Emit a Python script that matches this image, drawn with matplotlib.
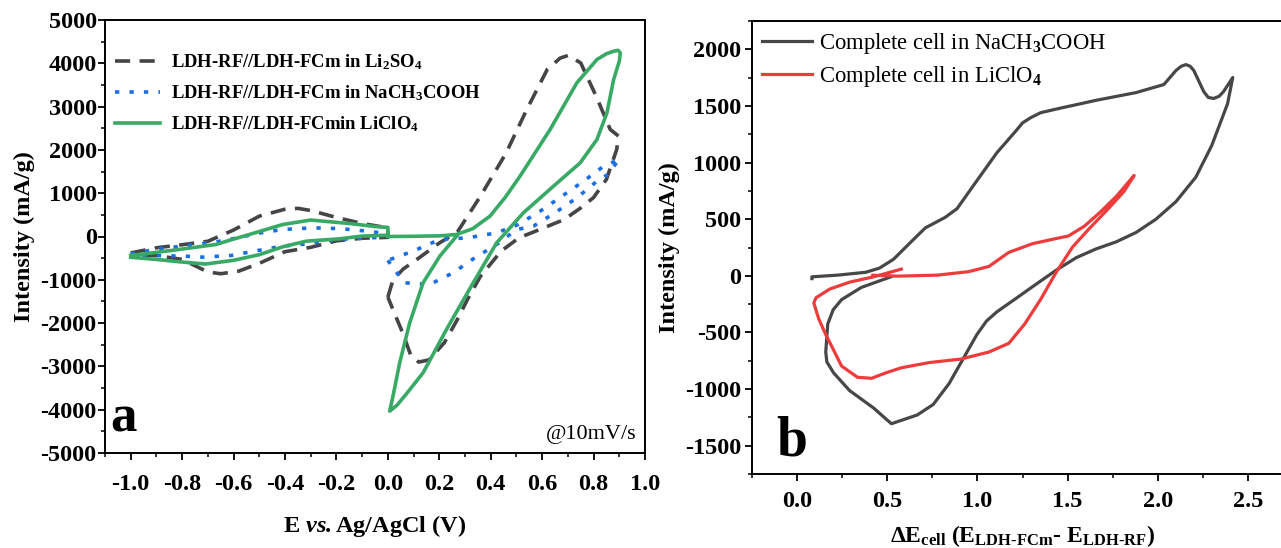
import numpy as np
import matplotlib
matplotlib.use("Agg")
import matplotlib.pyplot as plt

plt.rcParams['font.family'] = ['Liberation Serif', 'DejaVu Serif']
plt.rcParams['font.weight'] = 'bold'
plt.rcParams['axes.unicode_minus'] = False
plt.rcParams['mathtext.fontset'] = 'custom'
plt.rcParams['mathtext.rm'] = 'Liberation Serif'
plt.rcParams['mathtext.it'] = 'Liberation Serif:italic'
plt.rcParams['mathtext.bf'] = 'Liberation Serif:bold'
plt.rcParams['mathtext.bfit'] = 'Liberation Serif:italic:bold'

nan = np.nan

# ---- panel a: three-electrode CVs (negative loop, gap, positive loop) ----
li2so4_E = [-1.0, -0.9, -0.8, -0.7, -0.6, -0.5, -0.4, -0.35, -0.3, -0.2, -0.1, 0.0,
            0.0, -0.1, -0.2, -0.3, -0.4, -0.5, -0.58, -0.65, -0.7, -0.8, -0.9, -1.0,
            nan,
            0.0, 0.02, 0.06, 0.12, 0.2, 0.27, 0.36, 0.46, 0.54, 0.62, 0.67, 0.70, 0.75, 0.81,
            0.865, 0.897, 0.89, 0.85, 0.80, 0.75, 0.685, 0.59, 0.51, 0.44, 0.36, 0.31,
            0.27, 0.22, 0.16, 0.12, 0.09, 0.06, 0.02, 0.0]
li2so4_I = [-380, -260, -190, -110, 150, 470, 630, 650, 600, 440, 300, 200,
            -20, -40, -100, -250, -350, -620, -800, -860, -820, -530, -440, -420,
            nan,
            -1400, -1000, -750, -500, -150, 100, 930, 1930, 2930, 3860, 4120, 4180, 4010, 3240,
            2470, 2320, 2010, 1320, 900, 660, 390, 160, -30, -340, -920, -1450,
            -1920, -2450, -2850, -2900, -2760, -2260, -1690, -1400]

nach3cooh_E = [-1.0, -0.89, -0.78, -0.675, -0.57, -0.51, -0.41, -0.29, -0.18, -0.08, -0.03,
               -0.03, -0.09, -0.2, -0.3, -0.41, -0.52, -0.61, -0.72, -0.79, -0.91, -1.0,
               nan,
               0.0, 0.02, 0.065, 0.163, 0.254, 0.338, 0.423, 0.501, 0.566, 0.65, 0.735,
               0.813, 0.86, 0.9, 0.884, 0.839, 0.761, 0.677, 0.592, 0.507, 0.423,
               0.312, 0.202, 0.098, 0.0]
nach3cooh_I = [-400, -285, -208, -131, -15, 69, 162, 200, 180, 123, 85,
               -20, -38, -69, -162, -223, -339, -439, -477, -454, -439, -420,
               nan,
               -550, -723, -1069, -1108, -838, -492, -185, 162, 238, 547, 893,
               1277, 1450, 1800, 1739, 1623, 1277, 931, 584, 277, 85,
               -30, -69, -339, -550]

liclo4_E = [-1.0, -0.864, -0.8, -0.669, -0.6, -0.539, -0.409, -0.3, -0.149, -0.05, 0.0,
            0.0, -0.1, -0.188, -0.318, -0.409, -0.5, -0.6, -0.709, -0.8, -0.9, -1.0,
            nan,
            0.0, 0.1, 0.2, 0.267, 0.33, 0.397, 0.456, 0.514, 0.631, 0.735, 0.813, 0.85,
            0.878, 0.895, 0.904, 0.9, 0.878, 0.852, 0.813, 0.748, 0.644, 0.527, 0.423,
            0.332, 0.228, 0.137, 0.07, 0.035, 0.007, 0.02, 0.046, 0.085, 0.137, 0.202, 0.267]
liclo4_I = [-440, -339, -290, -185, -60, 46, 277, 380, 300, 230, 210,
            30, 10, -54, -108, -238, -420, -550, -636, -590, -530, -480,
            nan,
            0, 5, 15, 46, 180, 469, 900, 1393, 2470, 3549, 4087, 4220,
            4279, 4300, 4241, 4050, 3625, 2856, 2240, 1701, 1162, 547, -146,
            -1069, -2147, -3147, -3650, -3900, -4033, -3687, -2917, -1993, -1069, -454, 7]

panel_a_labels = [r'LDH-RF//LDH-FCm in Li$_\mathbf{2}$SO$_\mathbf{4}$',
                  r'LDH-RF//LDH-FCm in NaCH$_\mathbf{3}$COOH',
                  r'LDH-RF//LDH-FCmin LiClO$_\mathbf{4}$']
panel_a_xticks = [-1.0, -0.8, -0.6, -0.4, -0.2, 0.0, 0.2, 0.4, 0.6, 0.8, 1.0]

# ---- panel b: complete cell ----
cell_na_E = [0.082, 0.082, 0.225, 0.38, 0.457, 0.534, 0.622, 0.711, 0.821, 0.887, 0.997,
             1.108, 1.218, 1.25, 1.295, 1.35, 1.439, 1.659, 1.88, 2.034, 2.101, 2.13, 2.156,
             2.18, 2.2, 2.255, 2.28, 2.31, 2.34, 2.365, 2.416, 2.387, 2.299, 2.211, 2.101,
             1.99, 1.88, 1.77, 1.659, 1.549, 1.439, 1.328, 1.218, 1.108, 1.05, 0.997, 0.931,
             0.843, 0.755, 0.666, 0.523, 0.424, 0.291, 0.203, 0.165, 0.159, 0.17, 0.2, 0.247,
             0.357, 0.52]
cell_na_I = [-25, -9, 6, 31, 68, 145, 284, 423, 516, 593, 840,
             1087, 1288, 1350, 1396, 1440, 1473, 1550, 1618, 1689, 1813, 1850, 1865,
             1850, 1813, 1627, 1575, 1566, 1585, 1627, 1751, 1519, 1149, 871, 655,
             500, 383, 300, 238, 161, 52, -71, -195, -318, -400, -519, -704,
             -951, -1136, -1229, -1306, -1167, -1013, -858, -760, -673, -426, -300, -210,
             -102, -9]

cell_li_E = [0.42, 0.556, 0.777, 0.953, 1.064, 1.174, 1.306, 1.439, 1.505, 1.593, 1.681,
             1.77, 1.869, 1.814, 1.726, 1.615, 1.527, 1.439, 1.35, 1.262, 1.174, 1.064,
             0.909, 0.733, 0.578, 0.49, 0.413, 0.335, 0.247, 0.159, 0.12, 0.093, 0.104, 0.181,
             0.291, 0.424, 0.578]
cell_li_I = [5, -3, 6, 37, 83, 207, 284, 330, 352, 438, 562,
             701, 886, 747, 593, 408, 253, 37, -210, -426, -596, -673,
             -735, -766, -812, -858, -905, -896, -797, -519, -380, -241, -195, -117,
             -56, -9, 59]

panel_b_labels = [r'Complete cell in NaCH$_3$COOH', r'Complete cell in LiClO$_4$']

W, H = 1281, 548
fig = plt.figure(figsize=(W / 100, H / 100), dpi=100)

def px_axes(l, t, r, b):
    return fig.add_axes([l / W, 1 - b / H, (r - l) / W, (b - t) / H])

def style(ax, xpad, ypad):
    ax.tick_params(axis='both', which='major', direction='out', length=5, width=1.3,
                   labelsize=17.5, top=False, right=False)
    ax.tick_params(axis='x', which='major', pad=xpad)
    ax.tick_params(axis='y', which='major', pad=ypad)
    ax.tick_params(axis='both', which='minor', direction='out', length=3, width=1.1,
                   top=False, right=False)
    for s in ax.spines.values():
        s.set_linewidth(1.4)

# panel a
axa = px_axes(105, 20, 645, 453)
axa.plot(li2so4_E, li2so4_I, color='#454545', lw=2.6, ls=(0, (4.2, 2.6)),
         solid_joinstyle='round', label=panel_a_labels[0])
axa.plot(nach3cooh_E, nach3cooh_I, color='#1f6ee0', lw=2.6, ls=(0, (1.2, 2.8)),
         label=panel_a_labels[1])
axa.plot(liclo4_E, liclo4_I, color='#38aa66', lw=2.6, solid_joinstyle='round',
         label=panel_a_labels[2])
axa.set_xlim(-1.1, 1.0)
axa.set_ylim(-5000, 5000)
axa.set_xticks(panel_a_xticks)
axa.set_xticklabels([f'{v:.1f}' for v in panel_a_xticks])
axa.xaxis.set_minor_locator(plt.MultipleLocator(0.1))
axa.set_yticks(np.arange(-5000, 5001, 1000))
axa.set_yticks(np.arange(-5000, 5001, 500), minor=True)
style(axa, xpad=10, ypad=1)
axa.set_xlabel(r'E $\mathbfit{vs.}$Ag/AgCl (V)', fontsize=17.5, fontweight='bold', labelpad=13)
axa.set_ylabel('Intensity (mA/g)', fontsize=17.5, fontweight='bold', labelpad=4)
axa.legend(loc='upper left', bbox_to_anchor=(-0.005, 0.955), frameon=False, fontsize=13.4,
           handlelength=2.4, handletextpad=0.6, labelspacing=0.6, borderaxespad=0.3)
axa.text(0.01, 0.025, 'a', transform=axa.transAxes, fontsize=38, fontweight='bold',
         ha='left', va='bottom')
axa.text(0.985, 0.02, '@10mV/s', transform=axa.transAxes, fontsize=16,
         fontweight='normal', ha='right', va='bottom')

# panel b
axb = px_axes(752, 21, 1293, 474)
axb.plot(cell_na_E, cell_na_I, color='#474747', lw=2.3, solid_joinstyle='round',
         label=panel_b_labels[0])
axb.plot(cell_li_E, cell_li_I, color='#ee3b3b', lw=2.3, solid_joinstyle='round',
         label=panel_b_labels[1])
axb.set_xlim(-0.25, 2.75)
axb.set_ylim(-1750, 2250)
axb.set_xticks(np.arange(0.0, 2.51, 0.5))
axb.set_xticks(np.arange(-0.25, 2.76, 0.25), minor=True)
axb.set_yticks(np.arange(-1500, 2001, 500))
axb.set_yticks(np.arange(-1750, 2251, 250), minor=True)
style(axb, xpad=7, ypad=3)
axb.set_xlabel(r'$\mathbf{\Delta E_{cell}}$ (E$_{\mathbf{LDH}\text{-}\mathbf{FCm}}$- E$_{\mathbf{LDH}\text{-}\mathbf{RF}}$)',
               fontsize=17, fontweight='bold', labelpad=8)
axb.set_ylabel('Intensity (mA/g)', fontsize=17.5, fontweight='bold', labelpad=3)
axb.legend(loc='upper left', frameon=False, prop={'size': 16.3, 'weight': 'normal'},
           handlelength=2.2, handletextpad=0.3, labelspacing=0.35, borderaxespad=0.05)
axb.text(0.045, 0.015, 'b', transform=axb.transAxes, fontsize=40, fontweight='bold',
         ha='left', va='bottom')

fig.savefig('out.png', dpi=100)
